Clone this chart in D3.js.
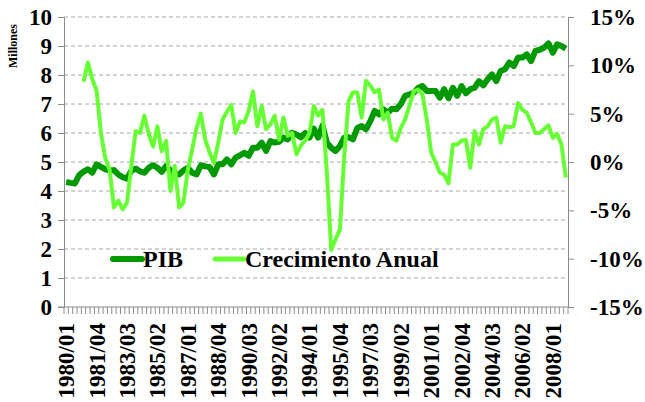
<!DOCTYPE html>
<html><head><meta charset="utf-8">
<script src="https://cdn.jsdelivr.net/npm/d3@7"></script>
<style>
html,body{margin:0;padding:0;background:#fff;}
text{font-family:"Liberation Serif","Times New Roman",serif;font-weight:bold;fill:#000;}
</style></head>
<body>
<svg id="c" width="645" height="402"></svg>
<script>
// ---- data ----
const years = d3.range(1980, 2009);
const quarters = ["01","02","03","04"];
const categories = years.flatMap(y => quarters.map(q => y + "/" + q));

const pib = [4.31,4.28,4.26,4.55,4.67,4.75,4.63,4.92,4.83,4.75,4.71,4.72,4.57,4.48,4.43,4.70,
4.77,4.68,4.63,4.80,4.89,4.80,4.66,4.86,4.72,4.60,4.57,4.71,4.80,4.63,4.57,4.89,
4.85,4.83,4.57,4.92,4.92,5.09,4.92,5.15,5.23,5.32,5.21,5.49,5.49,5.67,5.38,5.72,
5.67,5.70,5.84,5.78,6.01,5.95,5.85,6.00,5.84,6.15,5.84,6.26,5.67,5.49,5.38,5.55,
5.84,5.86,5.78,6.17,6.24,6.13,6.41,6.76,6.64,6.82,6.70,6.84,6.82,6.99,7.28,7.33,
7.39,7.55,7.62,7.45,7.45,7.45,7.22,7.51,7.20,7.56,7.28,7.62,7.37,7.51,7.56,7.79,
7.64,7.85,8.02,7.79,8.14,8.20,8.43,8.31,8.60,8.60,8.71,8.48,8.83,8.87,8.94,9.09,
8.77,9.06,9.00,8.91];

const crecimiento = [null,null,null,null,
8.3,10.3,8.6,7.4,3.0,0.4,-0.8,-4.7,-4.0,-4.9,-4.2,-0.4,
3.2,3.0,4.8,2.9,1.6,3.7,1.1,2.2,-3.0,-0.4,-4.7,-4.2,-0.8,1.3,3.5,5.0,
2.3,1.0,-0.1,2.0,4.4,5.2,5.9,3.0,4.2,4.1,5.3,7.3,3.7,5.8,3.4,3.9,
4.8,2.3,4.6,2.7,3.0,0.8,1.7,2.2,3.0,5.8,4.8,5.4,-1.1,-9.1,-8.0,-7.0,
0.6,6.3,7.2,7.2,4.6,8.4,7.9,7.2,7.5,4.4,5.1,2.5,2.2,3.5,4.4,5.8,
7.3,7.5,7.0,4.4,1.0,0.0,-1.1,-1.3,-2.2,1.8,1.8,2.2,2.3,-0.6,3.2,1.8,
3.4,3.7,4.4,4.6,2.0,3.7,3.6,3.7,6.1,5.4,5.1,4.1,3.0,3.0,3.4,3.8,
2.5,2.9,1.8,-1.6];

const leftTicks = [0,1,2,3,4,5,6,7,8,9,10];
const rightTicks = [-15,-10,-5,0,5,10,15];
const labelEvery = 7;
const seriesNames = ["PIB","Crecimiento Anual"];

// ---- chart ----
const svg = d3.select("#c");
const L = 64, R = 568, T = 17, B = 307;
const colPIB = "#009a00", colCre = "#66ff33", axisCol = "#8c8c8c";

const x = d3.scaleBand().domain(categories).range([L, R]).paddingInner(0).paddingOuter(0);
const xc = d => x(d) + x.bandwidth() / 2;
const yL = d3.scaleLinear().domain([0, 10]).range([B, T]);
const yR = d3.scaleLinear().domain([-15, 15]).range([B, T]);

// grid
svg.append("g").selectAll("line").data(leftTicks.filter(d => d > 0)).join("line")
  .attr("x1", L).attr("x2", R).attr("y1", d => yL(d)).attr("y2", d => yL(d))
  .attr("stroke", "#a6a6a6").attr("stroke-width", 1).attr("stroke-dasharray", "4,3");

// left axis
const gl = svg.append("g").attr("transform", `translate(${L},0)`)
  .call(d3.axisLeft(yL).tickValues(leftTicks).tickSize(6).tickPadding(6).tickFormat(d3.format("d")));
gl.select(".domain").attr("stroke", axisCol);
gl.selectAll(".tick line").attr("stroke", axisCol);
gl.selectAll(".tick text").attr("font-size", 23).attr("fill", "#000");

// right axis
const gr = svg.append("g").attr("transform", `translate(${R},0)`)
  .call(d3.axisRight(yR).tickValues(rightTicks).tickSize(6).tickPadding(16).tickFormat(d => d + "%"));
gr.select(".domain").attr("stroke", axisCol);
gr.selectAll(".tick line").attr("stroke", axisCol);
gr.selectAll(".tick text").attr("font-size", 23).attr("fill", "#000");

// bottom axis
svg.append("line").attr("x1", L - 6).attr("x2", R).attr("y1", B).attr("y2", B).attr("stroke", axisCol);
const bounds = categories.map(c => x(c)).concat([R]);
svg.append("g").selectAll("line").data(bounds).join("line")
  .attr("x1", d => d).attr("x2", d => d).attr("y1", B).attr("y2", B + 7)
  .attr("stroke", axisCol).attr("stroke-width", 1);
svg.append("g").selectAll("text").data(categories.filter((c, i) => i % labelEvery === 0)).join("text")
  .attr("transform", d => `translate(${xc(d) + 8},${B + 16}) rotate(-90)`)
  .attr("text-anchor", "end").attr("font-size", 23).text(d => d);

// Millones
svg.append("text").attr("transform", "translate(17,46) rotate(-90)")
  .attr("text-anchor", "middle").attr("font-size", 12).text("Millones");

// lines
const linePIB = d3.line().x((d, i) => xc(categories[i])).y(d => yL(d));
svg.append("path").datum(pib).attr("d", linePIB)
  .attr("fill", "none").attr("stroke", colPIB).attr("stroke-width", 6).attr("stroke-linejoin", "round");

const lineCre = d3.line().defined(d => d !== null).x((d, i) => xc(categories[i])).y(d => yR(d));
svg.append("path").datum(crecimiento).attr("d", lineCre)
  .attr("fill", "none").attr("stroke", colCre).attr("stroke-width", 4).attr("stroke-linejoin", "round");

// legend
const legend = [{name: seriesNames[0], col: colPIB, w: 6, x: 113}, {name: seriesNames[1], col: colCre, w: 5, x: 215}];
const lg = svg.append("g");
legend.forEach(l => {
  lg.append("line").attr("x1", l.x).attr("x2", l.x + 29).attr("y1", 259).attr("y2", 259)
    .attr("stroke", l.col).attr("stroke-width", l.w).attr("stroke-linecap", "round");
  lg.append("text").attr("x", l.x + 30).attr("y", 267).attr("font-size", 24).text(l.name);
});
</script>
</body></html>
